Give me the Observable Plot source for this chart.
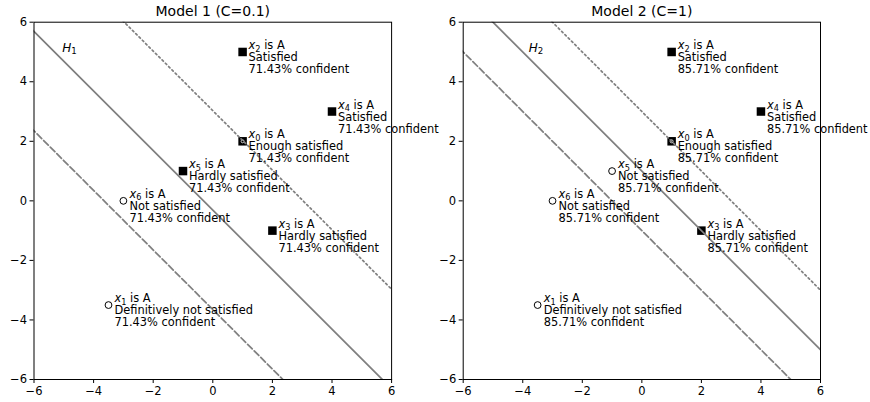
<!DOCTYPE html>
<html><head><meta charset="utf-8">
<script src="https://cdn.jsdelivr.net/npm/d3@7"></script>
<script src="https://cdn.jsdelivr.net/npm/@observablehq/plot@0.6"></script>
<style>
html,body{margin:0;padding:0;background:#fff;}
#wrap{position:relative;width:870px;height:402px;overflow:hidden;background:#fff;}
#wrap > div{position:absolute;top:0;}
</style></head><body>
<div id="wrap"><div id="p2" style="left:435px"></div><div id="p1" style="left:0"></div></div>
<script>
// ---- data ----
const pointIds = [0, 1, 2, 3, 4, 5, 6];
const pointX = [1, -3.5, 1, 2, 4, -1, -3];
const pointY = [2, -3.5, 5, -1, 3, 1, 0];
const modelTitles = ["Model 1 (C=0.1)", "Model 2 (C=1)"];
const model1Status = ["Enough satisfied", "Definitively not satisfied", "Satisfied", "Hardly satisfied", "Satisfied", "Hardly satisfied", "Not satisfied"];
const model2Status = ["Enough satisfied", "Definitively not satisfied", "Satisfied", "Hardly satisfied", "Satisfied", "Not satisfied", "Not satisfied"];
const model1Marker = ["square", "circle", "square", "square", "square", "square", "circle"];
const model2Marker = ["square", "circle", "square", "square", "square", "circle", "circle"];
const confidence = ["71.43%", "85.71%"];
const lineKinds = ["lower", "hyperplane", "upper"];
const lineSlope = [-1, -1];
const model1Intercepts = [-3.65, -0.31, 3.03];
const model2Intercepts = [-1, 1, 3];
const hLabels = ["H1", "H2"];
const hLabelX = [-5.05, -3.8];
const hLabelY = [5, 5];
const axisDomain = [-6, 6];
const tickValues = [-6, -4, -2, 0, 2, 4, 6];

const fmt = d => d < 0 ? "\u2212" + (-d) : String(d);
const dashFor = {lower: "6.5,2.8", hyperplane: null, upper: "1.75,2.9"};

function panel(k, status, markers, intercepts, margins) {
  const pts = pointIds.map((id, i) => ({
    id, x: pointX[i], y: pointY[i], marker: markers[i],
    label: `x${id} is A\n${status[i]}\n${confidence[k]} confident`
  }));
  const lineMarks = lineKinds.map((kind, j) => {
    const data = [-7, 7].map(x => ({x, y: lineSlope[k] * x + intercepts[j]}));
    const o = {x: "x", y: "y", stroke: "#808080", strokeWidth: 1.75, clip: true};
    if (dashFor[kind]) o.strokeDasharray = dashFor[kind];
    return Plot.line(data, o);
  });
  const svg = Plot.plot({
    width: 435, height: 402,
    marginLeft: margins[0], marginRight: margins[1], marginTop: 21.7, marginBottom: 23,
    style: {fontFamily: "DejaVu Sans", fontSize: "11.5px", background: "transparent", color: "black", overflow: "visible"},
    x: {domain: axisDomain, ticks: tickValues, tickSize: 4, tickPadding: 3, tickFormat: fmt, label: null},
    y: {domain: axisDomain, ticks: tickValues, tickSize: 4, tickPadding: 3, tickFormat: fmt, label: null},
    marks: [
      Plot.dot(pts.filter(d => d.marker === "square"), {x: "x", y: "y", symbol: "square", r: 4.8, fill: "black"}),
      Plot.dot(pts.filter(d => d.marker === "square" && d.id === 0), {x: "x", y: "y", r: 1.5, fill: "black", stroke: "white", strokeWidth: 0.8}),
      Plot.dot(pts.filter(d => d.marker === "circle"), {x: "x", y: "y", r: 3.4, fill: "white", stroke: "black", strokeWidth: 1}),
      ...lineMarks,
      Plot.text(pts, {x: "x", y: "y", text: "label", textAnchor: "start", lineAnchor: "top", lineHeight: 1.05, dx: 6, dy: -11.4, fontSize: 11.4, fill: "black"}),
      Plot.text([{x: hLabelX[k], y: hLabelY[k], t: hLabels[k]}], {x: "x", y: "y", text: "t", textAnchor: "start", lineAnchor: "bottom", fontSize: 12, fill: "black"}),
      Plot.text([modelTitles[k]], {frameAnchor: "top", text: d => d, lineAnchor: "bottom", dy: -6.5, fontSize: 14, fill: "black"}),
      Plot.frame({stroke: "black", strokeWidth: 1})
    ]
  });
  const NS = "http://www.w3.org/2000/svg";
  const mk = (txt, attrs) => { const t = document.createElementNS(NS, "tspan"); for (const a in attrs) t.setAttribute(a, attrs[a]); t.textContent = txt; return t; };
  svg.querySelectorAll("text").forEach(el => {
    const first = el.querySelector("tspan");
    const target = first || el;
    const s = target.textContent;
    let m = s.match(/^x(\d) is A$/);
    if (m) {
      target.textContent = "";
      target.appendChild(mk("x", {"font-style": "italic"}));
      target.appendChild(mk(m[1], {dy: "2.5", "font-size": "8.2"}));
      target.appendChild(mk(" is A", {dy: "-2.5"}));
      return;
    }
    m = s.match(/^H(\d)$/);
    if (m && !first) {
      el.textContent = "";
      el.appendChild(mk("H", {"font-style": "italic"}));
      el.appendChild(mk(m[1], {dy: "2.5", "font-size": "8.6"}));
    }
  });
  return svg;
}

document.getElementById("p1").appendChild(panel(0, model1Status, model1Marker, model1Intercepts, [33.5, 43.9]));
document.getElementById("p2").appendChild(panel(1, model2Status, model2Marker, model2Intercepts, [27.7, 50]));
</script>
</body></html>
